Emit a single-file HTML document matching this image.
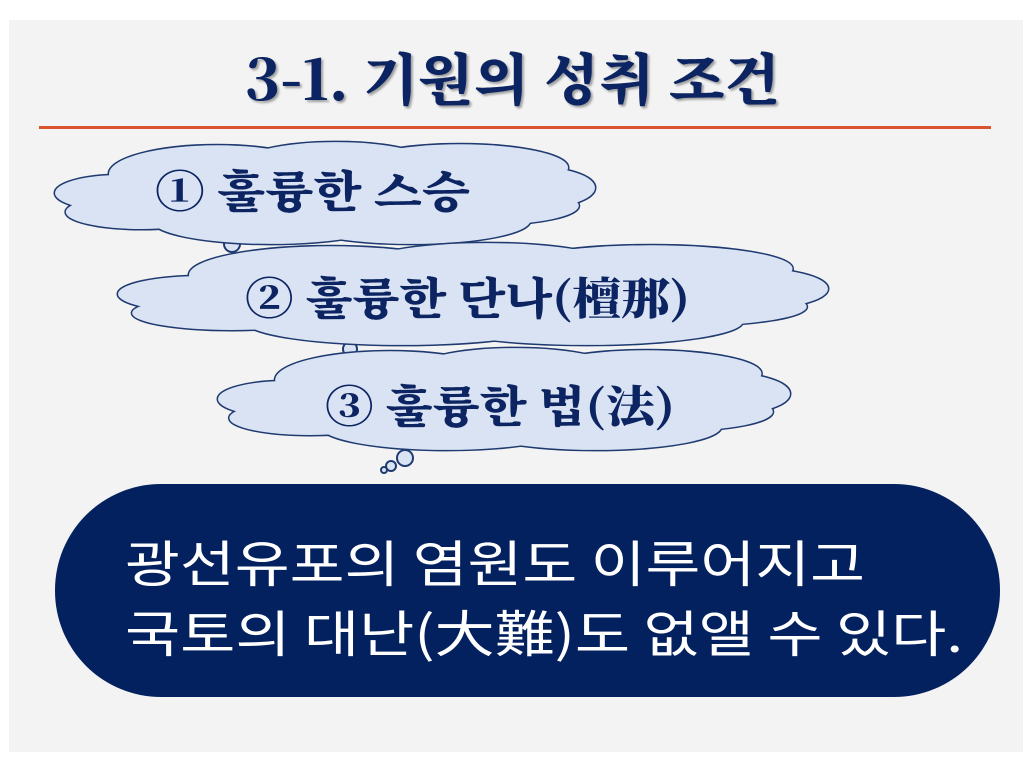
<!DOCTYPE html>
<html><head><meta charset="utf-8"><style>
html,body{margin:0;padding:0;background:#fff;width:1032px;height:767px;overflow:hidden}
</style></head><body>
<svg width="1032" height="767" viewBox="0 0 1032 767" xmlns="http://www.w3.org/2000/svg">
<defs>
<g id="c1">
<ellipse cx="119.8" cy="193" rx="64.8" ry="18"/>
<ellipse cx="141.4" cy="212" rx="75.6" ry="17"/>
<ellipse cx="271" cy="220.6" rx="118.8" ry="23.3"/>
<ellipse cx="411.4" cy="220.6" rx="118.8" ry="23.3"/>
<ellipse cx="530.2" cy="187.7" rx="64.8" ry="21.2"/>
<ellipse cx="487" cy="205.7" rx="91.8" ry="19.1"/>
<ellipse cx="217" cy="173.9" rx="108" ry="28.6"/>
<ellipse cx="335.8" cy="165.4" rx="97.2" ry="23.3"/>
<ellipse cx="460" cy="167.6" rx="108" ry="23.3"/>
<ellipse cx="325" cy="193" rx="205.2" ry="31.8"/>
</g>
<g id="c2">
<ellipse cx="203.2" cy="294" rx="85.2" ry="18"/>
<ellipse cx="231.6" cy="313" rx="99.4" ry="17"/>
<ellipse cx="402" cy="321.6" rx="156.2" ry="23.3"/>
<ellipse cx="586.6" cy="321.6" rx="156.2" ry="23.3"/>
<ellipse cx="742.8" cy="288.7" rx="85.2" ry="21.2"/>
<ellipse cx="686" cy="306.7" rx="120.7" ry="19.1"/>
<ellipse cx="331" cy="274.9" rx="142" ry="28.6"/>
<ellipse cx="487.2" cy="266.4" rx="127.8" ry="23.3"/>
<ellipse cx="650.5" cy="268.6" rx="142" ry="23.3"/>
<ellipse cx="473" cy="294" rx="269.8" ry="31.8"/>
</g>
<g id="c3">
<ellipse cx="286.6" cy="399" rx="68.6" ry="18"/>
<ellipse cx="309.5" cy="418" rx="80.1" ry="17"/>
<ellipse cx="446.8" cy="426.6" rx="125.8" ry="23.3"/>
<ellipse cx="595.5" cy="426.6" rx="125.8" ry="23.3"/>
<ellipse cx="721.4" cy="393.7" rx="68.6" ry="21.2"/>
<ellipse cx="675.6" cy="411.7" rx="97.2" ry="19.1"/>
<ellipse cx="389.6" cy="379.9" rx="114.4" ry="28.6"/>
<ellipse cx="515.4" cy="371.4" rx="103" ry="23.3"/>
<ellipse cx="647" cy="373.6" rx="114.4" ry="23.3"/>
<ellipse cx="504" cy="399" rx="217.4" ry="31.8"/>
</g>
</defs>
<rect x="9" y="20" width="1014" height="732" fill="#f3f3f3"/>
<text x="245" y="100" textLength="535" lengthAdjust="spacingAndGlyphs" font-family="'Noto Serif CJK KR','Liberation Serif',serif" font-weight="900" font-size="56" fill="#0c2562" style="filter:drop-shadow(2px 2px 1px rgba(0,0,0,.35))">3-1. 기원의 성취 조건</text>
<rect x="39" y="126" width="952" height="3" fill="#d9532f"/>

<g stroke="#1f3a70" stroke-width="2" fill="#dae3f3">
<circle cx="232" cy="244" r="8"/><circle cx="350" cy="349" r="7"/>
<circle cx="405" cy="458" r="8"/><circle cx="391" cy="466" r="5"/><circle cx="384" cy="470" r="3"/>
</g>

<use href="#c1" fill="#dae3f3" stroke="#1f3a70" stroke-width="3"/>
<use href="#c1" fill="#dae3f3" stroke="none"/>
<use href="#c2" fill="#dae3f3" stroke="#1f3a70" stroke-width="3"/>
<use href="#c2" fill="#dae3f3" stroke="none"/>
<use href="#c3" fill="#dae3f3" stroke="#1f3a70" stroke-width="3"/>
<use href="#c3" fill="#dae3f3" stroke="none"/>

<g font-family="'Noto Serif CJK KR','Liberation Serif',serif" font-weight="900" font-size="44" fill="#0c2562">
<text x="155" y="207" textLength="315" lengthAdjust="spacingAndGlyphs">① 훌륭한 스승</text>
<text x="245" y="314" textLength="445" lengthAdjust="spacingAndGlyphs">② 훌륭한 단나(檀那)</text>
<text x="325" y="422" textLength="350" lengthAdjust="spacingAndGlyphs">③ 훌륭한 법(法)</text>
</g>

<rect x="55" y="484" width="945" height="213" rx="106" ry="106" fill="#04215f"/>
<g font-family="'Noto Sans CJK KR','Liberation Sans',sans-serif" font-size="50" fill="#fff">
<text x="125" y="582" textLength="740" lengthAdjust="spacingAndGlyphs">광선유포의 염원도 이루어지고</text>
<text x="125" y="652" textLength="838" lengthAdjust="spacingAndGlyphs">국토의 대난(大難)도 없앨 수 있다.</text>
</g>
</svg>
</body></html>
